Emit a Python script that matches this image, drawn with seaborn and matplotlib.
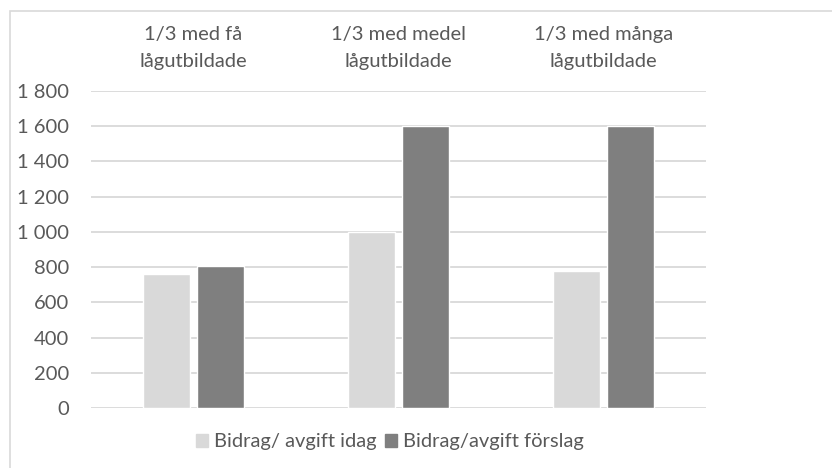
import matplotlib
matplotlib.use('Agg')
import matplotlib.pyplot as plt
import matplotlib.patches as mpatches
import pandas as pd
import seaborn as sns

# Data
grupper = ['1/3 med få\nlågutbildade', '1/3 med medel\nlågutbildade', '1/3 med många\nlågutbildade']
serier = ['Bidrag/ avgift idag', 'Bidrag/avgift förslag']
idag = [760, 1000, 778]
forslag = [805, 1600, 1600]
farger = ['#d9d9d9', '#7f7f7f']

df = pd.DataFrame({
    'grupp': grupper * 2,
    'serie': [serier[0]] * 3 + [serier[1]] * 3,
    'varde': idag + forslag,
})

sns.set_style('white')
plt.rcParams['font.family'] = ['Lato', 'DejaVu Sans']

fig = plt.figure(figsize=(8.32, 4.68), dpi=100)
ax = fig.add_axes([0.1094, 0.1282, 0.7392, 0.6774])

# ramen runt diagrammet
fig.patches.append(mpatches.Rectangle((10 / 832, -0.05), 1.0, 1 - 11 / 468 + 0.05,
                                      transform=fig.transFigure, fill=False,
                                      edgecolor='#d9d9d9', linewidth=1.2))

sns.barplot(data=df, x='grupp', y='varde', hue='serie', palette=farger,
            width=0.52, gap=0.12, ax=ax, legend=False, zorder=3)

ax.set_xlim(-0.5, 2.5)
ax.set_ylim(0, 1800)
ax.set_yticks(range(0, 2000, 200))
ax.set_yticklabels([f'{v:,}'.replace(',', ' ') for v in range(0, 2000, 200)])
ax.set_xticks(range(len(grupper)))
ax.set_xticklabels(grupper, linespacing=1.75)
ax.yaxis.grid(True, color='#d9d9d9', linewidth=1.3, zorder=0)
ax.set_axisbelow(True)
ax.xaxis.tick_top()
ax.tick_params(axis='x', length=0, pad=15, labelsize=14.5, colors='#595959')
ax.tick_params(axis='y', length=0, pad=16, labelsize=14.5, colors='#595959')
for s in ax.spines.values():
    s.set_visible(False)
ax.set_xlabel('')
ax.set_ylabel('')

handles = [mpatches.Patch(color=c, label=l) for c, l in zip(farger, serier)]
fig.legend(handles=handles, loc='center', bbox_to_anchor=(0.469, 0.056), ncol=2,
           frameon=False, fontsize=14.5, handlelength=0.6, handleheight=0.6,
           handletextpad=0.3, columnspacing=0.4, labelcolor='#595959')

fig.savefig('out.png', dpi=100)
